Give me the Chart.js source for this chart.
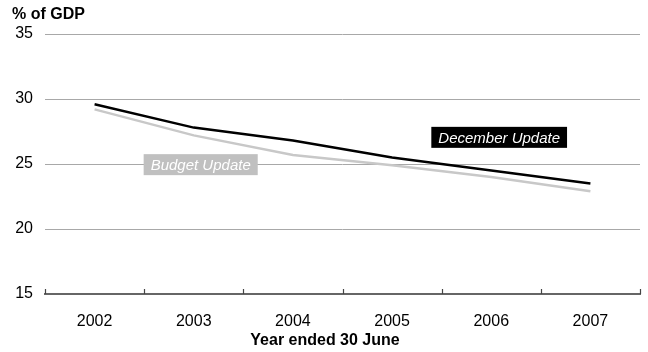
<!DOCTYPE html>
<html>
<head>
<meta charset="utf-8">
<script src="https://cdn.jsdelivr.net/npm/chart.js"></script>
<style>
  html, body { margin: 0; padding: 0; background: #fff; }
  #wrap { width: 648px; height: 352px; position: relative; }
</style>
</head>
<body>
<div id="wrap"><canvas id="chartCanvas"></canvas></div>
<script>
// Receipts as a share of GDP, by financial year
const years = ['2002', '2003', '2004', '2005', '2006', '2007'];
const decemberUpdate = [29.6, 27.8, 26.8, 25.5, 24.5, 23.5];
const budgetUpdate = [29.2, 27.2, 25.7, 24.9, 24.0, 22.9];
const yTicks = [15, 20, 25, 30, 35];

const FONT = '"Liberation Sans", Arial, sans-serif';

// series labels sitting next to the lines (category index, value)
const seriesLabels = [
  { text: 'December Update', at: [4.08, 27.05], bg: '#000000', fg: '#ffffff' },
  { text: 'Budget Update', at: [1.07, 24.95], bg: '#c0c0c0', fg: '#ffffff' }
];

const decor = {
  id: 'decor',
  afterDatasetsDraw(chart) {
    const ctx = chart.ctx;
    const x = chart.scales.x, y = chart.scales.y;
    ctx.save();
    ctx.font = 'italic 15px ' + FONT;
    ctx.textAlign = 'center';
    ctx.textBaseline = 'middle';
    seriesLabels.forEach(l => {
      const cx = x.getPixelForValue(l.at[0]);
      const cy = y.getPixelForValue(l.at[1]);
      const w = ctx.measureText(l.text).width + 14;
      const h = 21;
      ctx.fillStyle = l.bg;
      ctx.fillRect(cx - w / 2, cy - h / 2, w, h);
      ctx.fillStyle = l.fg;
      ctx.fillText(l.text, cx, cy + 1);
    });
    ctx.restore();
  },
  afterDraw(chart) {
    const ctx = chart.ctx;
    const area = chart.chartArea;
    const n = years.length;
    ctx.save();
    // small ticks pointing up from the axis, between the years
    ctx.strokeStyle = '#444';
    ctx.lineWidth = 1.2;
    for (let i = 0; i <= n; i++) {
      const px = Math.round(area.left + (area.right - area.left) * i / n) + 0.5;
      ctx.beginPath();
      ctx.moveTo(px, area.bottom);
      ctx.lineTo(px, area.bottom - 5);
      ctx.stroke();
    }
    // unit label above the value axis and the year axis title
    ctx.fillStyle = '#000';
    ctx.font = 'bold 16px ' + FONT;
    ctx.textBaseline = 'middle';
    ctx.textAlign = 'left';
    ctx.fillText('% of GDP', 12, 15);
    ctx.textAlign = 'center';
    ctx.fillText('Year ended 30 June', chart.width / 2 + 1, 341);
    ctx.restore();
  }
};

new Chart(document.getElementById('chartCanvas'), {
  type: 'line',
  data: {
    labels: years,
    datasets: [
      {
        label: 'Budget Update',
        data: budgetUpdate,
        borderColor: '#c8c8c8',
        borderWidth: 2.5,
        pointRadius: 0,
        tension: 0
      },
      {
        label: 'December Update',
        data: decemberUpdate,
        borderColor: '#000000',
        borderWidth: 2.5,
        pointRadius: 0,
        tension: 0
      }
    ]
  },
  options: {
    responsive: true,
    maintainAspectRatio: false,
    animation: false,
    layout: { padding: { top: 34, right: 8, bottom: 2, left: 0 } },
    plugins: {
      legend: { display: false },
      tooltip: { enabled: false }
    },
    scales: {
      x: {
        offset: true,
        grid: { display: false },
        border: { display: true, color: '#666', width: 2 },
        ticks: { color: '#000', font: { family: FONT, size: 16 }, padding: 10 },
        afterFit(scale) { scale.height = 56; }
      },
      y: {
        min: 15,
        max: 35,
        afterBuildTicks(scale) { scale.ticks = yTicks.map(v => ({ value: v })); },
        grid: {
          drawTicks: false,
          color: ctx => ctx.tick && ctx.tick.value === 15 ? 'rgba(0,0,0,0)' : '#a8a8a8',
          lineWidth: 1
        },
        border: { display: false },
        ticks: { color: '#000', font: { family: FONT, size: 16 }, padding: 12 },
        afterFit(scale) { scale.width = 45; }
      }
    }
  },
  plugins: [decor]
});
</script>
</body>
</html>
